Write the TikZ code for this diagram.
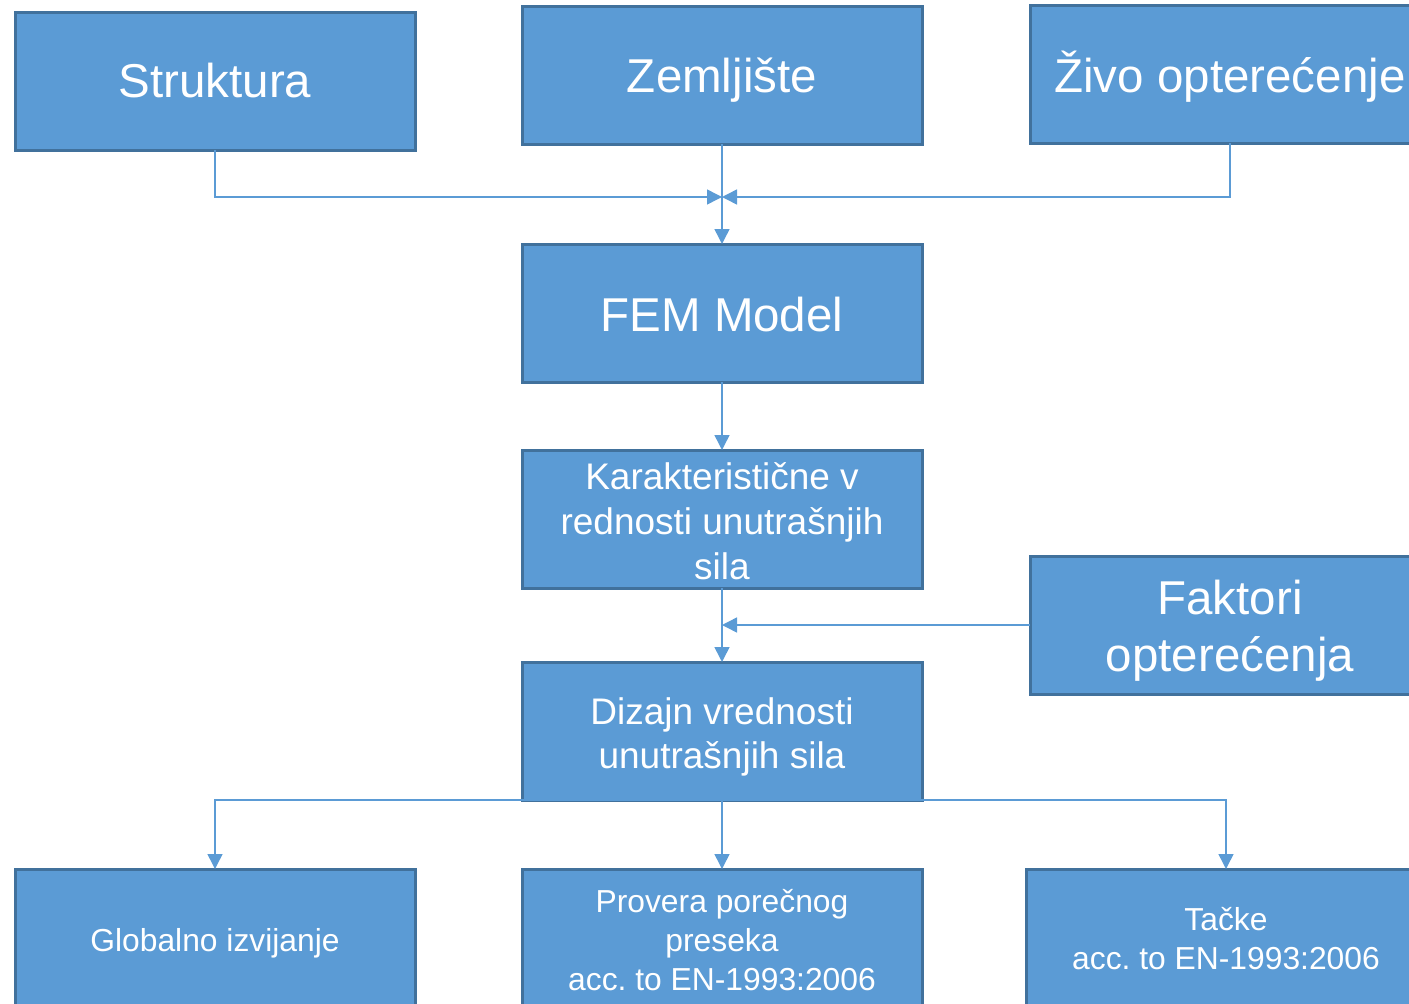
\documentclass[tikz,border=0pt]{standalone}
\usepackage{fontspec}
\setmainfont{Liberation Sans}
\frenchspacing
\usetikzlibrary{arrows.meta}
\definecolor{boxfill}{HTML}{5B9BD5}
\definecolor{boxline}{HTML}{41719C}
\definecolor{conn}{HTML}{5B9BD5}
\tikzset{
  blk/.style={draw=boxline, fill=boxfill, line width=3pt, minimum width=400pt, minimum height=138pt,
    inner sep=0pt, outer sep=0pt},
  lbl/.style={inner sep=0pt, text=white, align=center},
  big/.style={font=\fontsize{47.5}{57}\selectfont},
  mid/.style={font=\fontsize{37}{44.8}\selectfont},
  sml/.style={font=\fontsize{31.8}{39}\selectfont},
  link/.style={draw=conn, line width=1.5pt},
  arr/.style={link, -{Triangle[width=15pt,length=15pt]}}
}
\begin{document}
\begin{tikzpicture}[x=1pt,y=-1pt]
\useasboundingbox (0,0) rectangle (1409,1004);
\clip (0,0) rectangle (1409,1004);
\node[blk] (str) at (215,81) {};
\node[blk] (zem) at (722,75) {};
\node[blk] (ziv) at (1230,74) {};
\node[blk] (fem) at (722,313) {};
\node[blk] (kar) at (722,519) {};
\node[blk] (fak) at (1230,625) {};
\node[blk] (diz) at (722,731) {};
\node[blk] (glo) at (215,938) {};
\node[blk] (pro) at (722,938) {};
\node[blk] (tac) at (1226,938) {};
\node[lbl,big] (strT) at ([yshift=0pt]str.center) {Struktura};
\node[lbl,big] (zemT) at ([yshift=-5pt]zem.center) {Zemljište};
\node[lbl,big] (zivT) at ([yshift=-3pt]ziv.center) {Živo opterećenje};
\node[lbl,big] (femT) at ([yshift=-2pt]fem.center) {FEM Model};
\node[lbl,mid] (karT) at ([yshift=-2pt]kar.center) {Karakteristične v\\rednosti unutrašnjih\\sila};
\node[lbl,big] (fakT) at ([yshift=-6pt]fak.center) {Faktori\\opterećenja};
\node[lbl,mid] (dizT) at ([yshift=-6pt]diz.center) {Dizajn vrednosti\\unutrašnjih sila};
\node[lbl,sml] (gloT) at ([yshift=-5pt]glo.center) {Globalno izvijanje};
\node[lbl,sml] (proT) at ([yshift=-2pt]pro.center) {Provera porečnog\\preseka\\acc. to EN-1993:2006};
\node[lbl,sml] (tacT) at ([yshift=-1pt]tac.center) {Tačke\\acc. to EN-1993:2006};
\coordinate (m) at (722,197);
\draw[arr] (zem.south) -- (fem.north);
\draw[arr] (str.south) |- (m);
\draw[arr] (ziv.south) |- (m);
\draw[arr] (fem.south) -- (kar.north);
\draw[arr] (kar.south) -- (diz.north);
\draw[arr] (fak.west) -- (fak.west -| kar.south);
\draw[arr] (diz.south) -| (glo.north);
\draw[arr] (diz.south) -- (pro.north);
\draw[arr] (diz.south) -| (tac.north);
\end{tikzpicture}
\end{document}
